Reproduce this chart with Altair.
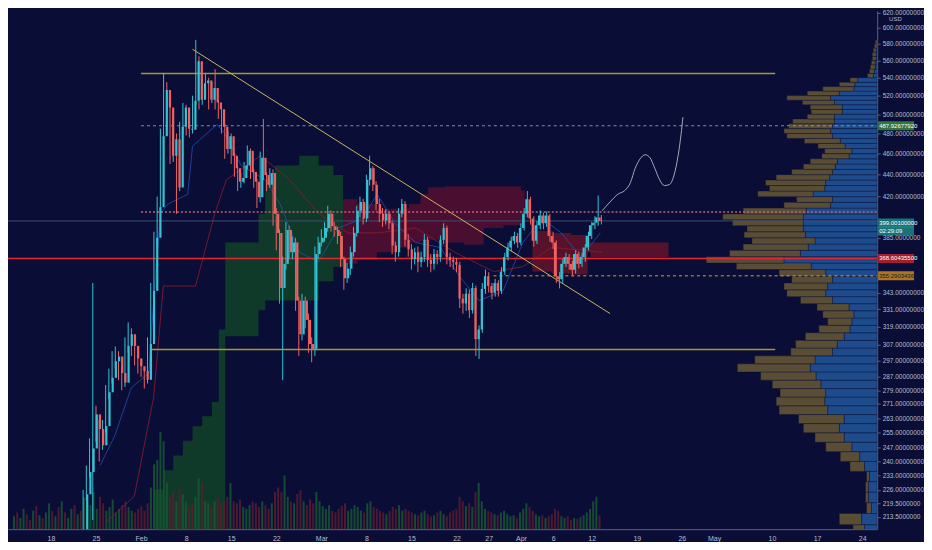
import altair as alt
import pandas as pd
import numpy as np

BG = "#0a0e36"
W, H = 872, 520
FONT = "Liberation Sans Narrow, Liberation Sans, sans-serif"
UP, DOWN = "#33c3d3", "#f06262"

# ---------------- candles (12h) ----------------
candle_start = "2021-01-23 00:00"
first_open = 205.0
closes = [
    223.9, 234.7, 246.7, 265.1, 257.0, 248.3, 258.6, 277.8, 286.4, 296.6,
    299.6, 289.3, 283.5, 306.4, 314.0, 306.4, 298.4, 293.5, 290.5, 285.2,
    307.6, 344.2, 385.1, 410.8, 477.1, 526.2, 507.2, 458.0, 474.2, 428.2,
    486.9, 507.2, 484.9, 483.9, 514.5, 559.3, 515.5, 533.7, 537.0, 515.5,
    528.3, 512.4, 505.1, 486.9, 464.6, 477.1, 458.0, 446.0, 433.5, 437.0,
    448.7, 462.7, 442.4, 433.5, 419.5, 456.1, 439.7, 430.8, 441.5, 405.2,
    389.0, 346.3, 364.4, 391.4, 373.5, 381.2, 337.2, 314.0, 337.2, 323.7,
    307.6, 304.5, 372.0, 381.2, 385.1, 393.0, 405.2, 394.6, 391.4, 386.6,
    368.1, 353.5, 360.7, 373.5, 389.0, 407.7, 415.3, 401.1, 435.3, 446.0,
    430.8, 413.6, 405.2, 399.4, 405.2, 397.0, 378.9, 373.5, 405.2, 413.6,
    383.5, 375.8, 368.1, 373.5, 365.9, 369.7, 383.5, 367.4, 364.4, 372.0,
    369.7, 383.5, 393.0, 369.7, 367.4, 365.9, 363.7, 338.6, 335.2, 342.1,
    330.4, 346.3, 310.8, 317.2, 345.6, 355.0, 347.7, 342.8, 349.9, 344.2,
    358.5, 369.7, 377.3, 382.7, 386.6, 381.2, 393.0, 405.2, 417.8, 401.1,
    382.7, 395.4, 403.6, 397.0, 403.6, 386.6, 381.2, 355.0, 352.7, 364.4,
    369.7, 364.4, 359.9, 372.0, 364.4, 369.7, 377.3, 386.6, 395.4, 397.5,
    402.0, 399.0]
highs = [
    226, 238, 252, 350, 270, 262, 262, 282, 292, 303,
    306, 303, 293, 312, 322, 318, 310, 301, 297, 293,
    312, 350, 390, 420, 485, 545, 535, 512, 485, 480,
    492, 512, 510, 492, 520, 585, 565, 540, 545, 540,
    535, 550, 515, 508, 490, 482, 480, 460, 448, 442,
    452, 468, 465, 445, 436, 462, 495, 442, 446, 445,
    410, 392, 370, 398, 395, 386, 385, 340, 342, 340,
    328, 312, 378, 386, 392, 398, 412, 408, 398, 394,
    390, 370, 365, 378, 394, 412, 420, 418, 440, 458,
    448, 434, 418, 410, 409, 407, 399, 382, 410, 418,
    416, 388, 380, 377, 378, 374, 388, 386, 372, 376,
    375, 387, 397, 395, 373, 370, 369, 366, 342, 346,
    345, 350, 348, 320, 350, 360, 358, 350, 353, 352,
    362, 373, 381, 386, 390, 389, 397, 410, 425, 420,
    403, 399, 408, 406, 407, 405, 390, 383, 358, 368,
    373, 372, 367, 375, 374, 373, 380, 390, 398, 403,
    421, 404]
lows = [
    200, 221, 232, 212, 250, 240, 246, 255, 274, 283,
    292, 285, 279, 281, 302, 300, 294, 289, 287, 280,
    283, 305, 340, 380, 405, 470, 500, 450, 452, 405,
    425, 480, 478, 476, 480, 510, 505, 510, 525, 505,
    512, 505, 495, 480, 455, 460, 450, 438, 425, 428,
    432, 445, 436, 428, 410, 415, 435, 425, 428, 395,
    375, 335, 285, 360, 368, 368, 330, 300, 310, 318,
    302, 296, 300, 368, 378, 382, 390, 390, 386, 380,
    362, 345, 350, 356, 370, 386, 402, 396, 398, 430,
    425, 408, 398, 394, 396, 392, 372, 366, 370, 402,
    378, 370, 360, 364, 358, 362, 366, 362, 358, 360,
    364, 366, 380, 364, 362, 360, 358, 332, 328, 330,
    325, 328, 300, 298, 315, 342, 343, 338, 340, 340,
    342, 356, 367, 374, 380, 377, 379, 391, 402, 396,
    378, 380, 392, 392, 394, 382, 376, 350, 346, 350,
    362, 360, 355, 357, 361, 362, 366, 375, 384, 392,
    395, 396]
candle_vol = [
    30, 26, 40, 22, 35, 28, 20, 24, 32, 18,
    22, 26, 30, 24, 20, 18, 22, 25, 20, 28,
    45, 70, 75, 105, 95, 50, 35, 40, 30, 45,
    38, 30, 25, 28, 35, 55, 50, 30, 28, 25,
    30, 35, 28, 30, 35, 50, 30, 28, 32, 24,
    22, 26, 30, 28, 24, 30, 26, 22, 28, 40,
    45, 40, 58, 35, 30, 28, 38, 42, 30, 26,
    32, 28, 40, 30, 25, 22, 26, 20, 18, 22,
    25, 28, 20, 22, 26, 24, 20, 18, 28, 30,
    24, 22, 20, 18, 16, 20, 24, 22, 26, 20,
    22, 20, 18, 16, 15, 18, 20, 16, 14, 15,
    18, 20, 16, 14, 18, 20, 22, 35, 30, 25,
    28, 24, 40, 50, 30, 22, 20, 18, 16, 15,
    18, 20, 16, 14, 15, 12, 18, 22, 28, 24,
    20, 16, 14, 15, 12, 14, 16, 22, 20, 14,
    12, 14, 10, 12, 11, 13, 15, 18, 22, 30,
    35, 15]
pre_start = "2021-01-11 12:00"
pre_vol = [14, 18, 12, 22, 16, 10, 20, 25, 15, 12, 18, 28, 20, 14, 24, 30, 18, 12, 22, 26, 16, 20, 34]
pre_up = [1, 0, 1, 1, 0, 0, 1, 0, 1, 0, 1, 1, 0, 1, 0, 1, 0, 1, 1, 0, 1, 0, 1]

# ---------------- ichimoku cloud ----------------
green_t = ["2021-02-02T23:00", "2021-02-04T11:00", "2021-02-06T00:00", "2021-02-07T12:00",
           "2021-02-09T00:00", "2021-02-10T12:00", "2021-02-12T00:00", "2021-02-13T02:00",
           "2021-02-14T02:00", "2021-02-17T07:00", "2021-02-19T06:00", "2021-02-20T07:00",
           "2021-02-21T19:00", "2021-02-25T14:00", "2021-02-28T14:00", "2021-03-02T21:00",
           "2021-03-04T09:00"]
green_hi = [226.2, 235.6, 243.0, 250.8, 258.6, 264.0, 272.2, 317.2, 381.2, 381.2,
            405.2, 435.3, 448.7, 458.0, 448.7, 439.7, 430.0]
green_lo = [200, 200, 200, 200, 200, 200, 200, 200, 312.7, 312.7,
            330.4, 337.2, 337.2, 337.2, 351.3, 362.2, 364.4]
red_t = ["2021-03-04T09:00", "2021-03-06T15:00", "2021-03-09T15:00",
         "2021-03-12T16:00", "2021-03-14T14:00", "2021-03-16T10:00", "2021-03-17T14:00",
         "2021-03-20T05:00", "2021-03-23T05:00", "2021-03-26T05:00", "2021-03-29T07:00",
         "2021-04-01T00:00", "2021-04-01T14:00"]
red_hi = [417.8, 413.6, 409.4, 409.4, 413.6, 422.1, 428.2, 429.1, 429.1, 429.1, 429.1, 425.5, 425.5]
red_lo = [364.4, 367.4, 373.5, 377.3, 381.2, 382.7, 383.5, 381.2, 379.6, 393.0, 395.4, 395.4, 395.4]
red2_t = ["2021-04-02T19:00", "2021-04-05T19:00", "2021-04-08T19:00", "2021-04-11T09:00",
          "2021-04-11T19:00", "2021-04-23T22:00"]
red2_hi = [390.6, 389.0, 387.4, 385.1, 381.2, 381.2]
red2_lo = [358.5, 357.0, 356.3, 373.5, 369.7, 369.7]

tenkan_t = ["2021-01-25T16:00", "2021-01-27T22:00", "2021-01-30T12:00", "2021-02-02T05:00",
            "2021-02-02T23:00", "2021-02-04T00:00", "2021-02-05T05:00", "2021-02-08T06:00",
            "2021-02-09T00:00", "2021-02-12T18:00", "2021-02-13T20:00", "2021-02-16T13:00",
            "2021-02-20T07:00", "2021-02-22T14:00", "2021-02-25T14:00", "2021-02-28T14:00",
            "2021-03-03T15:00", "2021-03-07T09:00", "2021-03-09T16:00", "2021-03-12T16:00",
            "2021-03-15T16:00", "2021-03-19T11:00", "2021-03-22T11:00", "2021-03-25T12:00",
            "2021-03-29T06:00", "2021-04-01T07:00", "2021-04-04T07:00", "2021-04-07T07:00",
            "2021-04-10T08:00", "2021-04-13T08:00"]
tenkan_p = [238.1, 253.4, 280.6, 289.3, 337.2, 405.2, 413.6, 422.1, 467.4, 488.9,
            481.9, 448.7, 435.3, 413.6, 373.5, 365.9, 393.0, 401.1, 422.1, 395.4,
            381.2, 377.3, 355.0, 337.2, 344.2, 381.2, 401.1, 389.0, 369.7, 389.0]
kijun_t = ["2021-01-26T10:00", "2021-01-30T23:00", "2021-02-02T23:00", "2021-02-04T11:00",
           "2021-02-09T11:00", "2021-02-12T11:00", "2021-02-14T06:00", "2021-02-19T13:00",
           "2021-02-24T02:00", "2021-02-28T14:00", "2021-03-05T03:00", "2021-03-09T16:00",
           "2021-03-15T16:00", "2021-03-21T17:00", "2021-03-27T18:00", "2021-04-01T07:00",
           "2021-04-05T19:00", "2021-04-13T15:00"]
kijun_p = [210.6, 223.0, 275.0, 347.7, 347.7, 405.2, 435.3, 458.0, 435.3, 405.2,
           389.0, 389.0, 393.0, 373.5, 358.5, 362.2, 377.3, 373.5]

# ---------------- drawings ----------------
proj_t = ["2021-04-13T15:00", "2021-04-14T20:00", "2021-04-16T01:00", "2021-04-17T03:00",
          "2021-04-18T00:00", "2021-04-18T18:00", "2021-04-19T13:00", "2021-04-20T07:00",
          "2021-04-21T01:00", "2021-04-21T19:00", "2021-04-22T13:00", "2021-04-23T07:00",
          "2021-04-24T01:00", "2021-04-24T19:00", "2021-04-25T10:00", "2021-04-25T21:00",
          "2021-04-26T04:00"]
proj_p = [407.7, 415.3, 422.1, 425.5, 432.5, 446.0, 455.2, 458.9, 456.1, 446.0,
          435.3, 430.0, 430.8, 439.7, 458.0, 479.0, 496.9]
trend_t = ["2021-02-09T00:00", "2021-04-14T20:00"]
trend_p = [573.5, 328.1]

lvl_name = ["res", "sup", "red", "orange", "pink", "white", "last"]
lvl_price = [545.0, 304.0, 368.6, 355.29, 406.7, 487.9, 399.0]
lvl_start = ["2021-02-01T00:00", "2021-02-02T16:00", "2021-01-11T08:00", "2021-03-27T18:00",
             "2021-02-01T00:00", "2021-02-01T00:00", "2021-01-11T08:00"]
lvl_end = ["2021-05-10T12:00", "2021-05-10T12:00", "2021-05-26T08:00", "2021-05-26T08:00",
           "2021-05-26T08:00", "2021-05-26T08:00", "2021-05-26T08:00"]

box_price = [487.93, 397.3, 368.6, 355.29]
box_text = ["487.92677920", "399.00100000", "368.60435500", "355.29034369"]
box_sub = ["", "02:29:09", "", ""]
box_name = ["green", "teal", "red", "orange"]

# ---------------- volume profile ----------------
prof_lo = list(range(205, 585, 5))
prof_blue = [13, 16, 6, 9, 9, 8, 13, 18, 26, 34,
             39, 34, 51, 54, 53, 58, 63, 69, 64, 46,
             41, 34, 28, 26, 24, 29, 46, 53, 51, 46,
             53, 68, 96, 79, 71, 64, 74, 76, 76, 76,
             73, 48, 46, 66, 54, 53, 49, 46, 43, 41,
             29, 26, 33, 38, 46, 48, 46, 44, 44, 36,
             36, 44, 48, 39, 24, 23, 20, 4, 3, 2,
             2, 1, 1, 1, 0, 0]
prof_brown = [12, 23, 5, 3, 3, 3, 15, 20, 27, 30,
              37, 47, 50, 50, 47, 50, 57, 75, 62, 43,
              43, 40, 32, 25, 32, 33, 33, 40, 45, 42,
              48, 77, 80, 73, 67, 65, 63, 58, 73, 83,
              65, 48, 37, 57, 57, 62, 55, 42, 33, 28,
              28, 28, 28, 37, 47, 48, 45, 43, 28, 32,
              33, 33, 45, 33, 32, 16, 8, 6, 5, 5,
              4, 4, 4, 3, 3, 2]

# ---------------- axis ticks ----------------
ytick_vals = [620, 600, 580, 560, 540, 520, 500, 480, 460, 440, 420, 385, 343, 331, 319,
              307, 297, 287, 279, 271, 263, 255, 247, 240, 233, 226, 219.5, 213.5]
xtick_month = [1, 1, 2, 2, 2, 2, 3, 3, 3, 3, 3, 4, 4, 4, 4, 4, 5, 5, 5, 5]
xtick_day = [18, 25, 1, 8, 15, 22, 1, 8, 15, 22, 27, 1, 6, 12, 19, 26, 1, 10, 17, 24]

# ---------------- frames ----------------
ctimes = pd.date_range(candle_start, periods=len(closes), freq="12h")
opens = [first_open] + closes[:-1]
cdf = pd.DataFrame({"t": ctimes.strftime("%Y-%m-%dT%H:%M:%S"), "o": opens,
                    "h": highs, "l": lows, "c": closes})

vtimes = pd.date_range(pre_start, periods=len(pre_vol) + len(closes), freq="12h")
vup = pre_up + [1 if c >= o else 0 for o, c in zip(opens, closes)]
vdf = pd.DataFrame({"t": vtimes.strftime("%Y-%m-%dT%H:%M:%S"), "v": pre_vol + candle_vol, "up": vup})

gdf = pd.DataFrame({"t": green_t, "hi": green_hi, "lo": green_lo})
rdf = pd.DataFrame({"t": red_t, "hi": red_hi, "lo": red_lo})
r2df = pd.DataFrame({"t": red2_t, "hi": red2_hi, "lo": red2_lo})
tdf = pd.DataFrame({"t": tenkan_t, "p": tenkan_p})
kdf = pd.DataFrame({"t": kijun_t, "p": kijun_p})
pdf_ = pd.DataFrame({"t": proj_t, "p": proj_p})
trdf = pd.DataFrame({"t": trend_t, "p": trend_p})
lseg = pd.DataFrame({
    "lvl": lvl_name + lvl_name,
    "p": lvl_price + lvl_price,
    "t": lvl_start + lvl_end,
})
bdf = pd.DataFrame({"p": box_price, "txt": box_text, "sub": box_sub, "name": box_name})

prof = pd.DataFrame({"lo": prof_lo, "blue": prof_blue, "brown": prof_brown})
prof["hi"] = prof["lo"] + 5
blue_df = pd.DataFrame({"lo": prof.lo, "hi": prof.hi, "x0": 0, "x1": prof.blue})
brown_df = pd.DataFrame({"lo": prof.lo, "hi": prof.hi, "x0": prof.blue, "x1": prof.blue + prof.brown})

# ---------------- scales ----------------
xs = alt.Scale(domain=[alt.DateTime(year=2021, month=1, date=11, hours=8),
                       alt.DateTime(year=2021, month=5, date=26, hours=8)], nice=False)
ys = alt.Scale(type="log", domain=[208, 622], nice=False, zero=False)


def X(f="t"):
    return alt.X(f"{f}:T", scale=xs, axis=None)


def Y(f):
    return alt.Y(f"{f}:Q", scale=ys, axis=None)


x_axis = alt.Axis(
    values=[alt.DateTime(year=2021, month=m, date=d) for m, d in zip(xtick_month, xtick_day)],
    labelExpr="date(datum.value) == 1 ? timeFormat(datum.value, '%b') : '' + date(datum.value)",
    grid=False, ticks=False, labelPadding=5, labelOverlap=False, title=None,
    domainColor="#5a5f7a", labelColor="#b7bccc", labelFontSize=7, labelFont=FONT)
y_axis = alt.Axis(
    orient="right", values=ytick_vals,
    labelExpr="(datum.value == 385 || datum.value < 220) ? format(datum.value, '.7f') : format(datum.value, '.8f')",
    grid=False, ticks=True, tickSize=3, tickColor="#5a5f7a", labelPadding=2, labelOverlap=False,
    title=None, domainColor="#5a5f7a", labelColor="#b7bccc", labelFontSize=6.5, labelFont=FONT)

# ---------------- layers ----------------
green_cloud = alt.Chart(gdf).mark_area(interpolate="step-after", color="#0f3a2a", clip=True).encode(
    x=X(), y=Y("hi"), y2="lo:Q")
red_cloud = alt.Chart(rdf).mark_area(interpolate="step-after", color="#4a0f30", clip=True).encode(
    x=X(), y=Y("hi"), y2="lo:Q")
red_cloud2 = alt.Chart(r2df).mark_area(interpolate="step-after", color="#56122a", clip=True).encode(
    x=X(), y=Y("hi"), y2="lo:Q")

volume = alt.Chart(vdf).mark_bar(size=2, clip=True, opacity=0.8).encode(
    x=X(),
    y=alt.Y("v:Q", scale=alt.Scale(domain=[0, 560], nice=False), axis=None),
    color=alt.condition("datum.up == 1", alt.value("#195a33"), alt.value("#5e1d30")))

px = alt.Scale(domain=[0, 895], reverse=True, nice=False, zero=False)
prof_blue_l = alt.Chart(blue_df).mark_rect(color="#1e4b8c", stroke=BG, strokeWidth=0.4, clip=True).encode(
    x=alt.X("x0:Q", scale=px, axis=None), x2="x1:Q", y=Y("lo"), y2="hi:Q")
prof_brown_l = alt.Chart(brown_df).mark_rect(color="#5a4d36", stroke=BG, strokeWidth=0.4, clip=True).encode(
    x=alt.X("x0:Q", scale=px, axis=None), x2="x1:Q", y=Y("lo"), y2="hi:Q")

tenkan = alt.Chart(tdf).mark_line(color="#2a55c8", strokeWidth=0.8, opacity=0.85, clip=True).encode(
    x=X(), y=Y("p"))
kijun = alt.Chart(kdf).mark_line(color="#8e1c2c", strokeWidth=0.8, clip=True).encode(
    x=X(), y=Y("p"))


def level(key, color, width=1.0, dash=None):
    kw = dict(strokeWidth=width, clip=True, stroke=color, color=color)
    if dash:
        kw["strokeDash"] = dash
    return alt.Chart(lseg[lseg["lvl"] == key]).mark_line(**kw).encode(
        x=X("t"), y=Y("p"))


lv_last = level("last", "#3f4d72", 1.0)
lv_res = level("res", "#a8962c", 1.5)
lv_sup = level("sup", "#a8962c", 1.5)
lv_pink = level("pink", "#c2607a", 1.5, [2, 2])
lv_white = level("white", "#a3a8bd", 0.8, [3, 3])
lv_orange = level("orange", "#e89a2c", 1.0, [3, 3])
lv_red = level("red", "#e3262f", 1.6)

trend = alt.Chart(trdf).mark_line(strokeWidth=1, clip=True, color="#c8b65a").encode(
    x=X(), y=Y("p"))

wick = alt.Chart(cdf).mark_rule(strokeWidth=1, clip=True).encode(
    x=alt.X("t:T", scale=xs, axis=x_axis),
    y=alt.Y("l:Q", scale=ys, axis=y_axis),
    y2="h:Q",
    color=alt.condition("datum.c >= datum.o", alt.value(UP), alt.value(DOWN)))
body = alt.Chart(cdf).mark_bar(size=2.2, clip=True).encode(
    x=X(), y=Y("o"), y2="c:Q",
    color=alt.condition("datum.c >= datum.o", alt.value(UP), alt.value(DOWN)))

proj = alt.Chart(pdf_).mark_line(color="#c9ccd8", strokeWidth=0.8, interpolate="monotone", clip=True).encode(
    x=X(), y=Y("p"))

box_colors = alt.Scale(domain=box_name, range=["#43a047", "#1f9e95", "#e3262f", "#f0a020"])
boxes = alt.Chart(bdf).mark_tick(orient="horizontal", size=36, thickness=9).encode(
    x=alt.value(W + 19), y=Y("p"),
    color=alt.Color("name:N", scale=box_colors, legend=None))
teal_box = alt.Chart(bdf[bdf.name == "teal"]).mark_tick(orient="horizontal", size=36, thickness=9).encode(
    x=alt.value(W + 19), y=Y("p"), yOffset=alt.value(8), color=alt.value("#1f9e95"))
box_txt = alt.Chart(bdf).mark_text(align="left", baseline="middle", fontSize=6, font=FONT).encode(
    x=alt.value(W + 2), y=Y("p"), text="txt:N",
    color=alt.condition("datum.name == 'orange'", alt.value("#1a1a1a"), alt.value("#ffffff")))
box_sub_txt = alt.Chart(bdf[bdf.name == "teal"]).mark_text(
    align="left", baseline="middle", fontSize=6, font=FONT, color="#ffffff", dy=8).encode(
    x=alt.value(W + 2), y=Y("p"), text="sub:N")
usd = alt.Chart(pd.DataFrame({"s": ["USD"]})).mark_text(
    align="left", baseline="middle", fontSize=6, font=FONT, color="#b7bccc").encode(
    x=alt.value(W + 12), y=alt.value(8), text="s:N")

chart = alt.layer(
    green_cloud, red_cloud, red_cloud2, volume, prof_blue_l, prof_brown_l,
    tenkan, kijun, lv_last, lv_res, lv_sup, lv_pink, lv_white, lv_orange, lv_red,
    trend, wick, body, proj, boxes, teal_box, box_txt, box_sub_txt, usd
).resolve_scale(
    x="independent", y="independent", color="independent"
).properties(
    width=W, height=H, padding=0, background=BG
).configure_view(stroke=None, fill=BG)

chart.save("out.html", embed_options={"renderer": "svg", "actions": False})
